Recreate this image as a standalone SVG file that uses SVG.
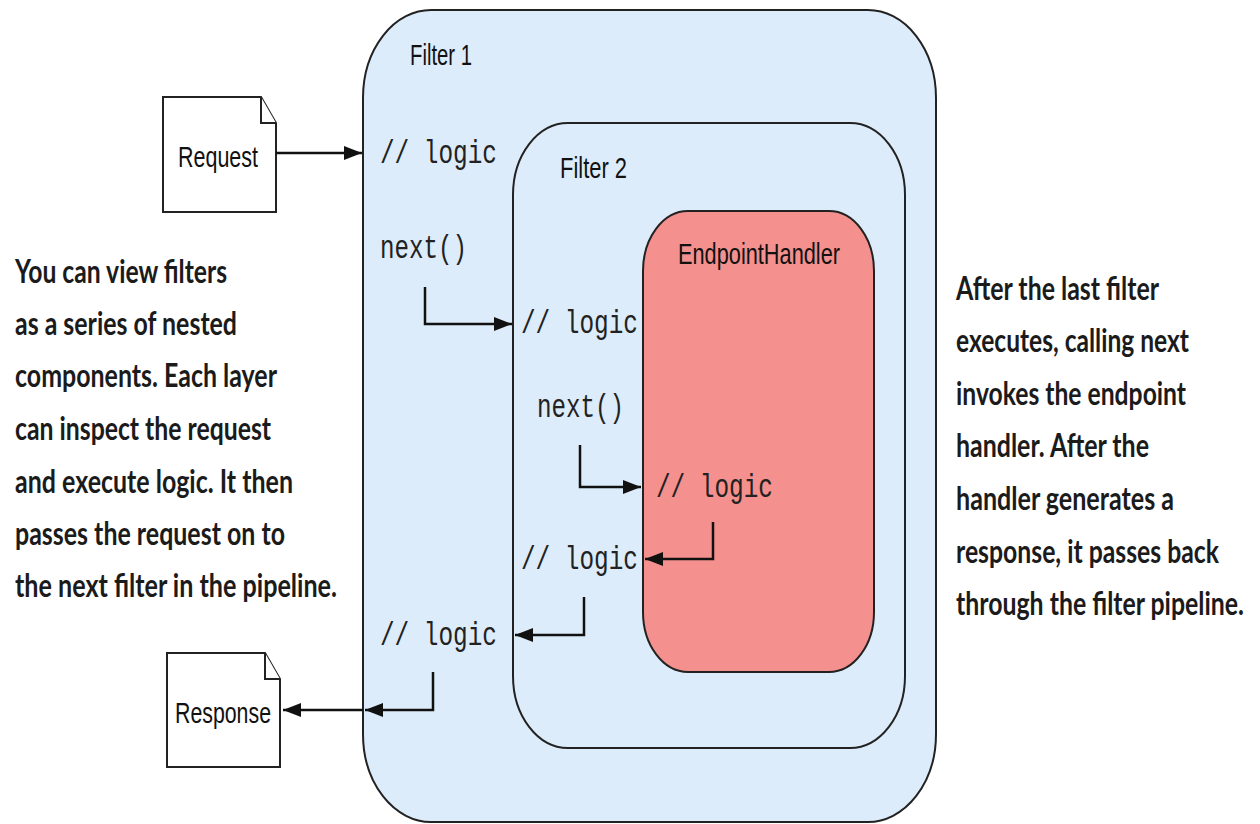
<svg xmlns="http://www.w3.org/2000/svg" width="1260" height="824" viewBox="0 0 1260 824">
<defs>
<marker id="ah" markerUnits="userSpaceOnUse" markerWidth="18" markerHeight="14" refX="18" refY="7" orient="auto">
<path d="M0,0 L18,7 L0,14 Z" fill="#111"/>
</marker>
<style>
.box{stroke:#222;stroke-width:2}
.f{fill:#ddecfa}
.h{fill:#f4908d}
.doc{fill:#fff;stroke:#222;stroke-width:2}
.lbl{font-family:"Liberation Sans",Arial,sans-serif;font-size:30px;fill:#111}
.mono{font-family:"Liberation Mono","Courier New",monospace;font-size:34px;fill:#222}
.note{font-family:Lato,"Liberation Sans",sans-serif;font-weight:700;font-size:32px;fill:#1b1b1b}
.c{fill:none;stroke:#111;stroke-width:2.5;marker-end:url(#ah)}
</style>
</defs>
<rect width="1260" height="824" fill="#fff"/>

<g id="filter1">
<rect class="box f" x="363" y="10" width="573" height="812" rx="68" ry="88"/>
<text class="lbl" x="410" y="65" textLength="62" lengthAdjust="spacingAndGlyphs">Filter 1</text>
<text class="mono" x="380" y="163" textLength="117" lengthAdjust="spacingAndGlyphs">// logic</text>
<text class="mono" x="380" y="258" textLength="87" lengthAdjust="spacingAndGlyphs">next()</text>
<text class="mono" x="380" y="645" textLength="117" lengthAdjust="spacingAndGlyphs">// logic</text>
</g>

<g id="filter2">
<rect class="box f" x="513" y="123" width="392" height="625" rx="55" ry="72"/>
<text class="lbl" x="560" y="178" textLength="67" lengthAdjust="spacingAndGlyphs">Filter 2</text>
<text class="mono" x="521" y="333" textLength="117" lengthAdjust="spacingAndGlyphs">// logic</text>
<text class="mono" x="537" y="417" textLength="87" lengthAdjust="spacingAndGlyphs">next()</text>
<text class="mono" x="521" y="569" textLength="117" lengthAdjust="spacingAndGlyphs">// logic</text>
</g>

<g id="endpointhandler">
<rect class="box h" x="643" y="211" width="231" height="461" rx="45" ry="60"/>
<text class="lbl" x="678" y="264" textLength="162" lengthAdjust="spacingAndGlyphs">EndpointHandler</text>
<text class="mono" x="656" y="497" textLength="117" lengthAdjust="spacingAndGlyphs">// logic</text>
</g>

<g id="request">
<path class="doc" d="M163,97 H261 L276,123 V212 H163 Z"/>
<path class="doc" d="M261,97 V123 H276"/>
<text class="lbl" x="178" y="167" textLength="80" lengthAdjust="spacingAndGlyphs">Request</text>
</g>

<g id="response">
<path class="doc" d="M167,653 H265 L280,679 V767 H167 Z"/>
<path class="doc" d="M265,653 V679 H280"/>
<text class="lbl" x="175" y="723" textLength="96" lengthAdjust="spacingAndGlyphs">Response</text>
</g>

<g id="connectors">
<path class="c" d="M276,153 H362"/>
<path class="c" d="M425,287 V324 H512"/>
<path class="c" d="M580,445 V487 H641"/>
<path class="c" d="M713,522 V559 H645"/>
<path class="c" d="M584,597 V635 H515"/>
<path class="c" d="M433,672 V710 H365"/>
<path class="c" d="M363,710 H283"/>
</g>

<g id="note-left">
<text class="note" x="15" y="283" textLength="212" lengthAdjust="spacingAndGlyphs">You can view filters</text>
<text class="note" x="15" y="335" textLength="222" lengthAdjust="spacingAndGlyphs">as a series of nested</text>
<text class="note" x="15" y="387" textLength="262" lengthAdjust="spacingAndGlyphs">components. Each layer</text>
<text class="note" x="15" y="440" textLength="256" lengthAdjust="spacingAndGlyphs">can inspect the request</text>
<text class="note" x="15" y="493" textLength="278" lengthAdjust="spacingAndGlyphs">and execute logic. It then</text>
<text class="note" x="15" y="545" textLength="270" lengthAdjust="spacingAndGlyphs">passes the request on to</text>
<text class="note" x="15" y="597" textLength="322" lengthAdjust="spacingAndGlyphs">the next filter in the pipeline.</text>
</g>

<g id="note-right">
<text class="note" x="956" y="300" textLength="203" lengthAdjust="spacingAndGlyphs">After the last filter</text>
<text class="note" x="956" y="352" textLength="233" lengthAdjust="spacingAndGlyphs">executes, calling next</text>
<text class="note" x="956" y="405" textLength="230" lengthAdjust="spacingAndGlyphs">invokes the endpoint</text>
<text class="note" x="956" y="457" textLength="193" lengthAdjust="spacingAndGlyphs">handler. After the</text>
<text class="note" x="956" y="510" textLength="218" lengthAdjust="spacingAndGlyphs">handler generates a</text>
<text class="note" x="956" y="563" textLength="263" lengthAdjust="spacingAndGlyphs">response, it passes back</text>
<text class="note" x="956" y="615" textLength="288" lengthAdjust="spacingAndGlyphs">through the filter pipeline.</text>
</g>
</svg>
